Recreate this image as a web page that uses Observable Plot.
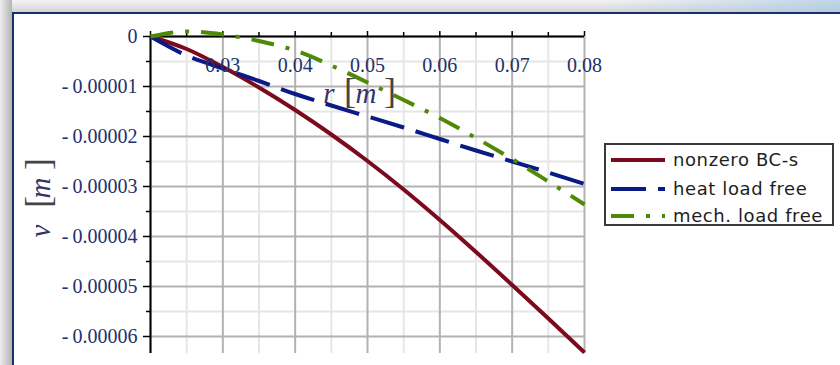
<!DOCTYPE html>
<html>
<head>
<meta charset="utf-8">
<script src="https://cdn.jsdelivr.net/npm/d3@7"></script>
<script src="https://cdn.jsdelivr.net/npm/@observablehq/plot@0.6"></script>
<style>
  html, body { margin: 0; padding: 0; background: #fff; }
  #wrap { position: relative; width: 840px; height: 365px; overflow: hidden; background: #fff; }
  #chart { position: absolute; left: 0; top: 0; }
  .frame { position: absolute; z-index: 5; }
  #legend { position: absolute; left: 604px; top: 143px; width: 226px; height: 79px;
            border: 2px solid #3a3a3a; background: #fff; z-index: 4;
            font-family: "DejaVu Sans", sans-serif; font-size: 18px; letter-spacing: 0.6px; color: #1e1e1e; }
  .row { position: absolute; left: 0; width: 226px; height: 24px; }
  .row svg { position: absolute; left: 5px; top: 0; }
  .row span { position: absolute; left: 67px; top: 0; line-height: 24px; white-space: nowrap; }
</style>
</head>
<body>
<div id="wrap">
  <div id="chart"></div>
  <div class="frame" style="left:0;top:0;width:840px;height:12px;background:linear-gradient(to bottom,#f4f4f4,#d4d4d4);"></div>
  <div class="frame" style="left:600px;top:0;width:240px;height:12px;background:linear-gradient(to right,rgba(190,210,230,0),rgba(170,200,228,0.7));"></div>
  <div class="frame" style="left:0;top:0;width:12px;height:365px;background:linear-gradient(to right,#ececec,#b4b4b4);"></div>
  <div class="frame" style="left:12px;top:12px;width:828px;height:2px;background:#16306e;"></div>
  <div class="frame" style="left:12px;top:12px;width:2px;height:353px;background:#16306e;"></div>
  <div id="legend"></div>
</div>
<script>
// ---- data ----
const r = [0.02, 0.025, 0.03, 0.035, 0.04, 0.045, 0.05, 0.055, 0.06, 0.065, 0.07, 0.075, 0.08];
const nonzeroBC = [0, -2.5e-6, -6.1e-6, -1.02e-5, -1.47e-5, -1.96e-5, -2.49e-5, -3.06e-5, -3.67e-5, -4.31e-5, -4.97e-5, -5.64e-5, -6.32e-5];
const heatFree  = [0, -3.8e-6, -6.4e-6, -8.9e-6, -1.15e-5, -1.38e-5, -1.60e-5, -1.82e-5, -2.05e-5, -2.28e-5, -2.50e-5, -2.72e-5, -2.95e-5];
const mechFree  = [0, 1.0e-6, 4e-7, -9e-7, -2.8e-6, -5.8e-6, -9.2e-6, -1.27e-5, -1.63e-5, -2.03e-5, -2.45e-5, -2.90e-5, -3.36e-5];

const seriesNames = ["nonzero BC-s", "heat load free", "mech. load free"];
const seriesColors = ["#7b0a1f", "#0a1a86", "#4f8a06"];
const seriesDash = [null, "35 12", "23 12 4 12"];

const xMajor = [0.02, 0.03, 0.04, 0.05, 0.06, 0.07, 0.08];
const xMinor = [0.025, 0.035, 0.045, 0.055, 0.065, 0.075];
const xLabels = [0.03, 0.04, 0.05, 0.06, 0.07, 0.08];
const yMajor = [0, -0.00001, -0.00002, -0.00003, -0.00004, -0.00005, -0.00006];
const yMinor = [-0.000005, -0.000015, -0.000025, -0.000035, -0.000045, -0.000055];

const rows = (vals) => r.map((x, i) => ({r: x, v: vals[i]}));
const seriesVals = [nonzeroBC, heatFree, mechFree];

const yFmt = d => d === 0 ? "0" : "-\u2009" + Math.abs(d).toFixed(5);
const labelColor = "#24306a";

const lineMarks = seriesVals.map((vals, k) => Plot.line(rows(vals), {
  x: "r", y: "v", stroke: seriesColors[k], strokeWidth: 4,
  strokeDasharray: seriesDash[k] || undefined, strokeLinecap: "butt", curve: "monotone-x"
}));

const plot = Plot.plot({
  width: 840, height: 365,
  marginLeft: 150, marginRight: 256, marginTop: 36, marginBottom: 12,
  x: {domain: [0.02, 0.08], axis: null},
  y: {domain: [-0.0000634, 0], axis: null},
  style: {background: "transparent", overflow: "visible"},
  marks: [
    Plot.ruleX(xMinor, {x: d => d, stroke: "#e6e6e6", strokeWidth: 2}),
    Plot.ruleY(yMinor, {y: d => d, stroke: "#e6e6e6", strokeWidth: 2}),
    Plot.ruleX(xMajor, {x: d => d, stroke: "#b2b2b2", strokeWidth: 2}),
    Plot.ruleY(yMajor, {y: d => d, stroke: "#b2b2b2", strokeWidth: 2}),
    // axis lines
    Plot.ruleY([0], {y: d => d, stroke: "#000", strokeWidth: 2}),
    Plot.ruleX([0.02], {x: d => d, stroke: "#000", strokeWidth: 2}),
    // ticks
    Plot.ruleX(xMajor, {x: d => d, y1: 0, y2: 0, insetTop: -5, stroke: "#000", strokeWidth: 1.5}),
    Plot.ruleX(xMinor, {x: d => d, y1: 0, y2: 0, insetTop: -4, stroke: "#000", strokeWidth: 1.5}),
    Plot.ruleY(yMajor, {y: d => d, x1: 0.02, x2: 0.02, insetLeft: -7, stroke: "#000", strokeWidth: 1.5}),
    Plot.ruleY(yMinor, {y: d => d, x1: 0.02, x2: 0.02, insetLeft: -4, stroke: "#000", strokeWidth: 1.5}),
    ...lineMarks,
    // tick labels
    Plot.text(xLabels, {x: d => d, frameAnchor: "top", dy: 21.5, text: d => d.toFixed(2),
      fontSize: 20, fontFamily: "Liberation Serif", fill: labelColor}),
    Plot.text(yMajor, {y: d => d, frameAnchor: "left", dx: -13, textAnchor: "end", text: yFmt,
      fontSize: 20, fontFamily: "Liberation Serif", fill: labelColor})
  ]
});
document.getElementById("chart").appendChild(plot);

// axis titles
const svg = d3.select(plot);
const axColor = "#34346a";
const xl = svg.append("text").attr("font-family", "Liberation Serif").attr("fill", axColor);
xl.append("tspan").attr("x", 329).attr("y", 103).attr("font-style", "italic").attr("font-size", 29).text("r");
xl.append("tspan").attr("x", 350).attr("y", 103).attr("font-size", 36).attr("fill", "#444").text("[");
xl.append("tspan").attr("x", 366).attr("y", 103).attr("font-style", "italic").attr("font-size", 29).text("m");
xl.append("tspan").attr("x", 390).attr("y", 103).attr("font-size", 36).attr("fill", "#444").text("]");

const yl = svg.append("text").attr("font-family", "Liberation Serif").attr("fill", axColor)
  .attr("transform", "translate(50,231) rotate(-90)");
yl.append("tspan").attr("x", 0).attr("y", 0).attr("font-style", "italic").attr("font-size", 29).text("v");
yl.append("tspan").attr("x", 29).attr("y", 0).attr("font-size", 36).attr("fill", "#444").text("[");
yl.append("tspan").attr("x", 43).attr("y", 0).attr("font-style", "italic").attr("font-size", 29).text("m");
yl.append("tspan").attr("x", 67).attr("y", 0).attr("font-size", 36).attr("fill", "#444").text("]");

// legend
const legend = d3.select("#legend");
const rowCenters = [15, 44, 71];
seriesNames.forEach((name, k) => {
  const row = legend.append("div").attr("class", "row").style("top", (rowCenters[k] - 12) + "px");
  const s = row.append("svg").attr("width", 54).attr("height", 24);
  s.append("line").attr("x1", 0).attr("x2", 54).attr("y1", 12).attr("y2", 12)
    .attr("stroke", seriesColors[k]).attr("stroke-width", 4)
    .attr("stroke-dasharray", seriesDash[k]);
  row.append("span").text(name);
});
</script>
</body>
</html>
